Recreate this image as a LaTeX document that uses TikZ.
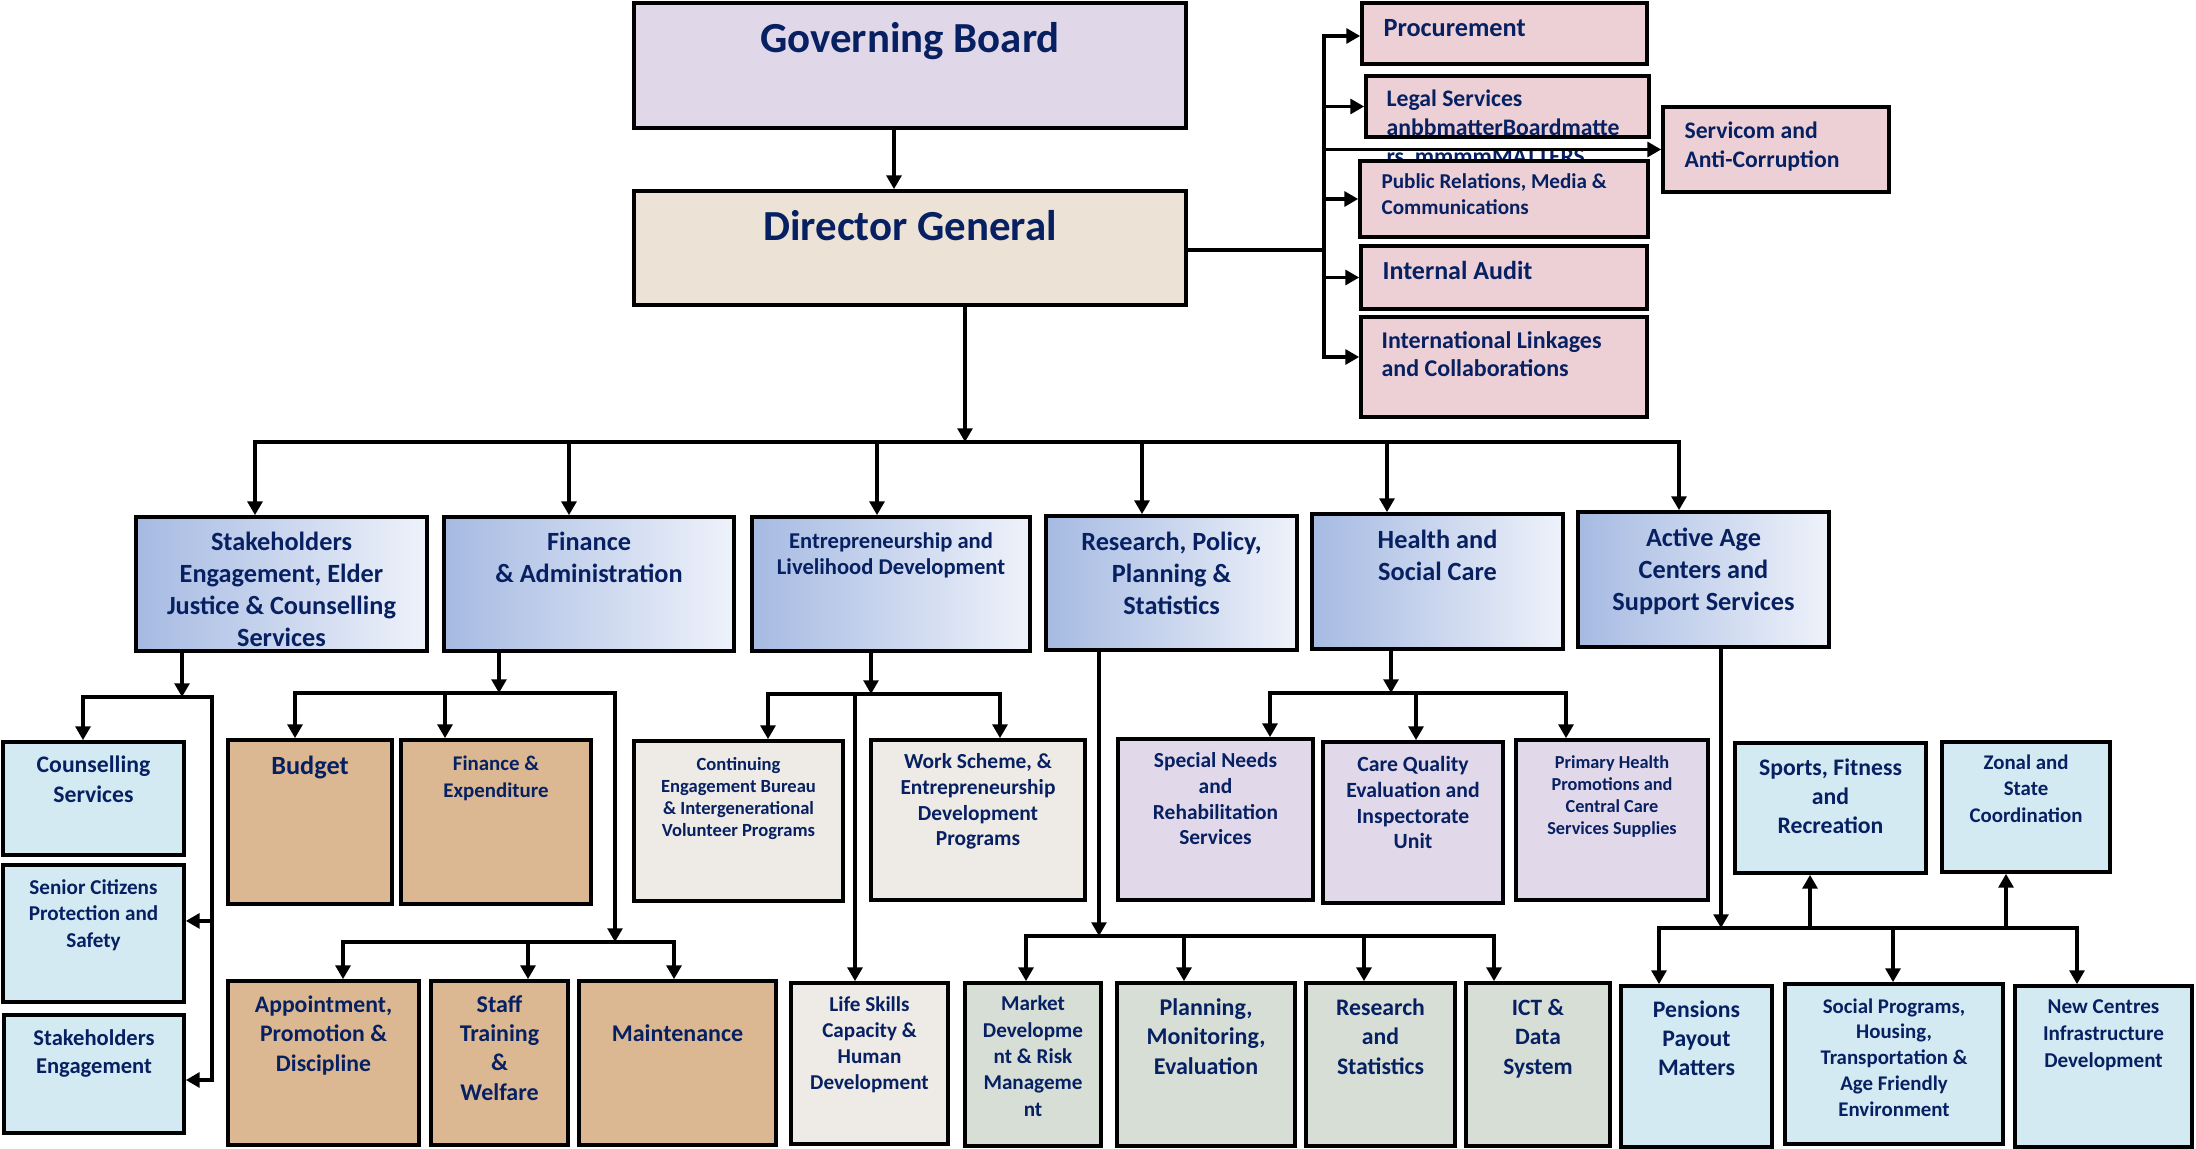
\documentclass[tikz,border=0pt]{standalone}
\usepackage{fontspec}
\setmainfont{Carlito}
\usetikzlibrary{arrows.meta,fit}
\definecolor{txtblue}{RGB}{6,32,98}
\definecolor{gbfill}{RGB}{224,216,232}
\definecolor{dgfill}{RGB}{237,226,214}
\definecolor{pinkfill}{RGB}{236,208,213}
\definecolor{lvla}{RGB}{166,186,226}
\definecolor{lvlb}{RGB}{238,242,250}
\definecolor{aquafill}{RGB}{212,234,242}
\definecolor{woodfill}{RGB}{219,184,146}
\definecolor{marblefill}{RGB}{238,234,229}
\definecolor{lavfill}{RGB}{225,217,233}
\definecolor{sagefill}{RGB}{214,222,214}
\newcommand{\fsz}[2]{\fontsize{#1pt}{#2pt}\selectfont\bfseries}
\begin{document}
\begin{tikzpicture}[x=0.35pt,y=0.35pt,yscale=-1,xscale=1,
    box/.style={draw=black, line width=1.3pt, inner sep=0pt},
    lvl/.style={box, left color=lvla, right color=lvlb},
    txt/.style={text=txtblue, align=center, inner sep=0pt, anchor=base},
    ltxt/.style={txt, align=left, anchor=base west},
    conn/.style={line width=1.1pt, line cap=rect},
    arr/.style={conn, -{Triangle[length=4.8pt,width=5.2pt]}}]
\useasboundingbox (0,0) rectangle (2196,1149);
% text nodes sit on the baseline of their last line

%Shape: Rectangle
\node[box, fill=gbfill, fit={(634,3) (1186,128)}] (gb) {};
\node[txt, font=\fsz{15}{18}] (gb-t) at (910,53) {Governing Board};
%Shape: Rectangle
\node[box, fill=dgfill, fit={(634,191) (1186,305)}] (dg) {};
\node[txt, font=\fsz{15}{18}] (dg-t) at (910,241) {Director General};

%Shape: Rectangle (right column)
\node[box, fill=pinkfill, fit={(1362,3) (1647,64)}] (proc) {};
\node[ltxt, font=\fsz{9.2}{11}] (proc-t) at (1383,37) {Procurement};
\node[box, fill=pinkfill, fit={(1366,76) (1649,137)}] (legal) {};
\node[ltxt, font=\fsz{8.3}{10.2}] (legal-t) at (1386,165) {Legal Services\\anbbmatterBoardmatte\\rs~ mmmmMATTERS};
\node[box, fill=pinkfill, fit={(1663,107) (1889,192)}] (servicom) {};
\node[ltxt, font=\fsz{8.3}{10.2}] (servicom-t) at (1684,168) {Servicom and\\Anti-Corruption};
\node[box, fill=pinkfill, fit={(1360,161) (1648,237)}] (pubrel) {};
\node[ltxt, font=\fsz{7.4}{9.1}] (pubrel-t) at (1381,215) {Public Relations, Media \&\\Communications};
\node[box, fill=pinkfill, fit={(1361,246) (1647,309)}] (audit) {};
\node[ltxt, font=\fsz{9.1}{11}] (audit-t) at (1382,280) {Internal Audit};
\node[box, fill=pinkfill, fit={(1361,317) (1647,417)}] (intl) {};
\node[ltxt, font=\fsz{8.4}{9.8}] (intl-t) at (1381,377) {International Linkages\\and Collaborations};

%Shape: Rectangle (directorates)
\node[lvl, fit={(136,517) (427,651)}] (stake) {};
\node[txt, font=\fsz{9.2}{11.2}] (stake-t) at (281.5,647) {Stakeholders\\Engagement, Elder\\Justice \& Counselling\\Services};
\node[lvl, fit={(444,517) (734,651)}] (finadm) {};
\node[txt, font=\fsz{9.2}{11.2}] (finadm-t) at (589,583) {Finance\\\& Administration};
\node[lvl, fit={(752,517) (1030,651)}] (entre) {};
\node[txt, font=\fsz{7.9}{9.1}] (entre-t) at (891,575) {Entrepreneurship and\\Livelihood Development};
\node[lvl, fit={(1046,516) (1297,650)}] (research) {};
\node[txt, font=\fsz{9.2}{11.2}] (research-t) at (1171.5,615) {Research, Policy,\\Planning \&\\Statistics};
\node[lvl, fit={(1312,514) (1563,649)}] (health) {};
\node[txt, font=\fsz{9.2}{11.2}] (health-t) at (1437.5,581) {Health and\\Social Care};
\node[lvl, fit={(1578,512) (1829,647)}] (active) {};
\node[txt, font=\fsz{9.2}{11.2}] (active-t) at (1703.5,611) {Active Age\\Centers and\\Support Services};

%Shape: Rectangle (stakeholders units)
\node[box, fill=aquafill, fit={(3,742) (184,855)}] (couns) {};
\node[txt, font=\fsz{8.3}{10.5}] (couns-t) at (93.5,803) {Counselling\\Services};
\node[box, fill=aquafill, fit={(3,865) (184,1002)}] (senior) {};
\node[txt, font=\fsz{7.4}{9.2}] (senior-t) at (93.5,947) {Senior Citizens\\Protection and\\Safety};
\node[box, fill=aquafill, fit={(4,1015) (184,1133)}] (stakeeng) {};
\node[txt, font=\fsz{7.9}{9.5}] (stakeeng-t) at (94,1073) {Stakeholders\\Engagement};

%Shape: Rectangle (finance units)
\node[box, fill=woodfill, fit={(228,740) (392,904)}] (budget) {};
\node[txt, font=\fsz{9.2}{11}] (budget-t) at (310,775) {Budget};
\node[box, fill=woodfill, fit={(401,740) (591,904)}] (finexp) {};
\node[txt, font=\fsz{7.3}{9.5}] (finexp-t) at (496,798) {Finance \&\\Expenditure};
\node[box, fill=woodfill, fit={(228,981) (419,1145)}] (appoint) {};
\node[txt, font=\fsz{8.3}{10.3}] (appoint-t) at (323.5,1071) {Appointment,\\Promotion \&\\Discipline};
\node[box, fill=woodfill, fit={(431,981) (568,1145)}] (staff) {};
\node[txt, font=\fsz{8.4}{10.2}] (staff-t) at (499.5,1100) {Staff\\Training\\\&\\Welfare};
\node[box, fill=woodfill, fit={(579,981) (776,1145)}] (maint) {};
\node[txt, font=\fsz{8.4}{10.2}] (maint-t) at (677.5,1041) {Maintenance};

%Shape: Rectangle (entrepreneurship units)
\node[box, fill=marblefill, fit={(634,741) (843,901)}] (contin) {};
\node[txt, font=\fsz{6.5}{7.7}] (contin-t) at (738.5,837) {Continuing\\Engagement Bureau\\\& Intergenerational\\Volunteer Programs};
\node[box, fill=marblefill, fit={(871,740) (1085,900)}] (worksch) {};
\node[txt, font=\fsz{7.5}{9}] (worksch-t) at (978,846) {Work Scheme, \&\\Entrepreneurship\\Development\\Programs};
\node[box, fill=marblefill, fit={(791,983) (948,1144)}] (lifesk) {};
\node[txt, font=\fsz{7.4}{9.1}] (lifesk-t) at (869.5,1089) {Life Skills\\Capacity \&\\Human\\Development};

%Shape: Rectangle (research units)
\node[box, fill=sagefill, fit={(965,983) (1101,1146)}] (market) {};
\node[txt, font=\fsz{7.4}{9.2}] (market-t) at (1033,1116) {Market\\Developme\\nt \& Risk\\Manageme\\nt};
\node[box, fill=sagefill, fit={(1117,983) (1295,1146)}] (planmon) {};
\node[txt, font=\fsz{8.4}{10.3}] (planmon-t) at (1206,1074) {Planning,\\Monitoring,\\Evaluation};
\node[box, fill=sagefill, fit={(1306,983) (1455,1146)}] (resstat) {};
\node[txt, font=\fsz{8.3}{10.3}] (resstat-t) at (1380.5,1074) {Research\\and\\Statistics};
\node[box, fill=sagefill, fit={(1466,983) (1610,1146)}] (ict) {};
\node[txt, font=\fsz{8.2}{10.3}] (ict-t) at (1538,1074) {ICT \&\\Data\\System};

%Shape: Rectangle (health units)
\node[box, fill=lavfill, fit={(1118,739) (1313,900)}] (special) {};
\node[txt, font=\fsz{7.5}{9}] (special-t) at (1215.5,845) {Special Needs\\and\\Rehabilitation\\Services};
\node[box, fill=lavfill, fit={(1323,742) (1503,903)}] (carequal) {};
\node[txt, font=\fsz{7.6}{9}] (carequal-t) at (1413,849) {Care Quality\\Evaluation and\\Inspectorate\\Unit};
\node[box, fill=lavfill, fit={(1516,740) (1708,900)}] (primary) {};
\node[txt, font=\fsz{6.4}{7.8}] (primary-t) at (1612,835) {Primary Health\\Promotions and\\Central Care\\Services Supplies};

%Shape: Rectangle (active age units)
\node[box, fill=aquafill, fit={(1735,743) (1926,873)}] (sports) {};
\node[txt, font=\fsz{8.3}{10.3}] (sports-t) at (1830.5,834) {Sports, Fitness\\and\\Recreation};
\node[box, fill=aquafill, fit={(1942,742) (2110,872)}] (zonal) {};
\node[txt, font=\fsz{7.3}{9.45}] (zonal-t) at (2026,823) {Zonal and\\State\\Coordination};
\node[box, fill=aquafill, fit={(1621,986) (1772,1147)}] (pensions) {};
\node[txt, font=\fsz{8.3}{10}] (pensions-t) at (1696.5,1075) {Pensions\\Payout\\Matters};
\node[box, fill=aquafill, fit={(1785,984) (2003,1144)}] (social) {};
\node[txt, font=\fsz{7.3}{9}] (social-t) at (1894,1116) {Social Programs,\\Housing,\\Transportation \&\\Age Friendly\\Environment};
\node[box, fill=aquafill, fit={(2015,986) (2192,1147)}] (newcent) {};
\node[txt, font=\fsz{7.4}{9.3}] (newcent-t) at (2103.5,1067) {New Centres\\Infrastructure\\Development};

%Straight Lines (top)
\draw[arr] ([xshift=-5.6pt]gb.south) -- ([xshift=-5.6pt]dg.north);
\coordinate (trk) at (1324,250);
\coordinate (trktop) at (1324,36);
\coordinate (trkbot) at (1324,357);
\draw[conn] (dg.east |- trk) -- (trk);
\draw[conn] (trktop) -- (trkbot);
\draw[arr] (trktop) -- (trktop -| proc.west);
\draw[arr] (trk |- legal.west) -- (legal.west);
\draw[arr] (trk |- servicom.west) -- (servicom.west);
\draw[arr] (trk |- pubrel.west) -- (pubrel.west);
\draw[arr] (trk |- audit.west) -- (audit.west);
\draw[arr] (trkbot) -- (trkbot -| intl.west);

%Straight Lines (directorates)
\coordinate (hub) at (965,442);
\foreach \x [count=\i] in {255,569,877,1142,1387,1679}
  \coordinate (drop\i) at (\x,442);
\draw[arr] (dg.south -| hub) -- (hub);
\draw[conn] (drop1) -- (drop6);
\foreach \i/\n in {1/stake,2/finadm,3/entre,4/research,5/health,6/active}
  \draw[arr] (drop\i) -- (drop\i |- \n.north);

%Straight Lines (stakeholders)
\coordinate (sbus) at (182,697);
\coordinate (sbusl) at (83,697);
\coordinate (sbusr) at (212,697);
\coordinate (senin) at ([yshift=-4.4pt]senior.east);
\coordinate (engin) at ([yshift=2.1pt]stakeeng.east);
\draw[arr] (stake.south -| sbus) -- (sbus);
\draw[arr] (sbusr) -- (sbusl) -- (sbusl |- couns.north);
\draw[arr] (sbusr) |- (engin);
\draw[arr] (sbusr |- senin) -- (senin);

%Straight Lines (finance)
\coordinate (fbus) at (499,693);
\coordinate (fbusl) at (295,693);
\coordinate (fbusr) at (615,693);
\coordinate (fdrop) at (445,693);
\coordinate (gbus) at (615,942);
\coordinate (gbusl) at (343,942);
\coordinate (gbusr) at (674,942);
\coordinate (gdrop) at (528,942);
\draw[arr] (finadm.south -| fbus) -- (fbus);
\draw[conn] (fbusl) -- (fbusr);
\draw[arr] (fbusl) -- (fbusl |- budget.north);
\draw[arr] (fdrop) -- (fdrop |- finexp.north);
\draw[arr] (fbusr) -- (gbus);
\draw[conn] (gbusl) -- (gbusr);
\draw[arr] (gbusl) -- (gbusl |- appoint.north);
\draw[arr] (gdrop) -- (gdrop |- staff.north);
\draw[arr] (gbusr) -- (gbusr |- maint.north);

%Straight Lines (entrepreneurship)
\coordinate (ebus) at (871,694);
\coordinate (ebusl) at (768,694);
\coordinate (ebusr) at (1000,694);
\coordinate (edrop) at (855,694);
\draw[arr] (entre.south -| ebus) -- (ebus);
\draw[conn] (ebusl) -- (ebusr);
\draw[arr] (ebusl) -- (ebusl |- contin.north);
\draw[arr] (ebusr) -- (ebusr |- worksch.north);
\draw[arr] (edrop) -- (edrop |- lifesk.north);

%Straight Lines (research)
\coordinate (rbus) at (1099,936);
\coordinate (rbusl) at (1026,936);
\coordinate (rbusr) at (1494,936);
\coordinate (rdropa) at (1184,936);
\coordinate (rdropb) at (1364,936);
\draw[arr] (research.south -| rbus) -- (rbus);
\draw[conn] (rbusl) -- (rbusr);
\draw[arr] (rbusl) -- (rbusl |- market.north);
\draw[arr] (rdropa) -- (rdropa |- planmon.north);
\draw[arr] (rdropb) -- (rdropb |- resstat.north);
\draw[arr] (rbusr) -- (rbusr |- ict.north);

%Straight Lines (health)
\coordinate (hbus) at (1391,693);
\coordinate (hbusl) at (1270,693);
\coordinate (hbusr) at (1566,693);
\coordinate (hdrop) at (1416,693);
\draw[arr] (health.south -| hbus) -- (hbus);
\draw[conn] (hbusl) -- (hbusr);
\draw[arr] (hbusl) -- (hbusl |- special.north);
\draw[arr] (hdrop) -- (hdrop |- carequal.north);
\draw[arr] (hbusr) -- (hbusr |- primary.north);

%Straight Lines (active age)
\coordinate (abus) at (1721,928);
\coordinate (abusl) at (1659,928);
\coordinate (abusr) at (2077,928);
\coordinate (adrop) at (1893,928);
\coordinate (aupa) at (1810,928);
\coordinate (aupb) at (2006,928);
\draw[arr] (active.south -| abus) -- (abus);
\draw[conn] (abusl) -- (abusr);
\draw[arr] (abusl) -- (abusl |- pensions.north);
\draw[arr] (adrop) -- (adrop |- social.north);
\draw[arr] (abusr) -- (abusr |- newcent.north);
\draw[arr] (aupa) -- (aupa |- sports.south);
\draw[arr] (aupb) -- (aupb |- zonal.south);
\end{tikzpicture}
\end{document}
